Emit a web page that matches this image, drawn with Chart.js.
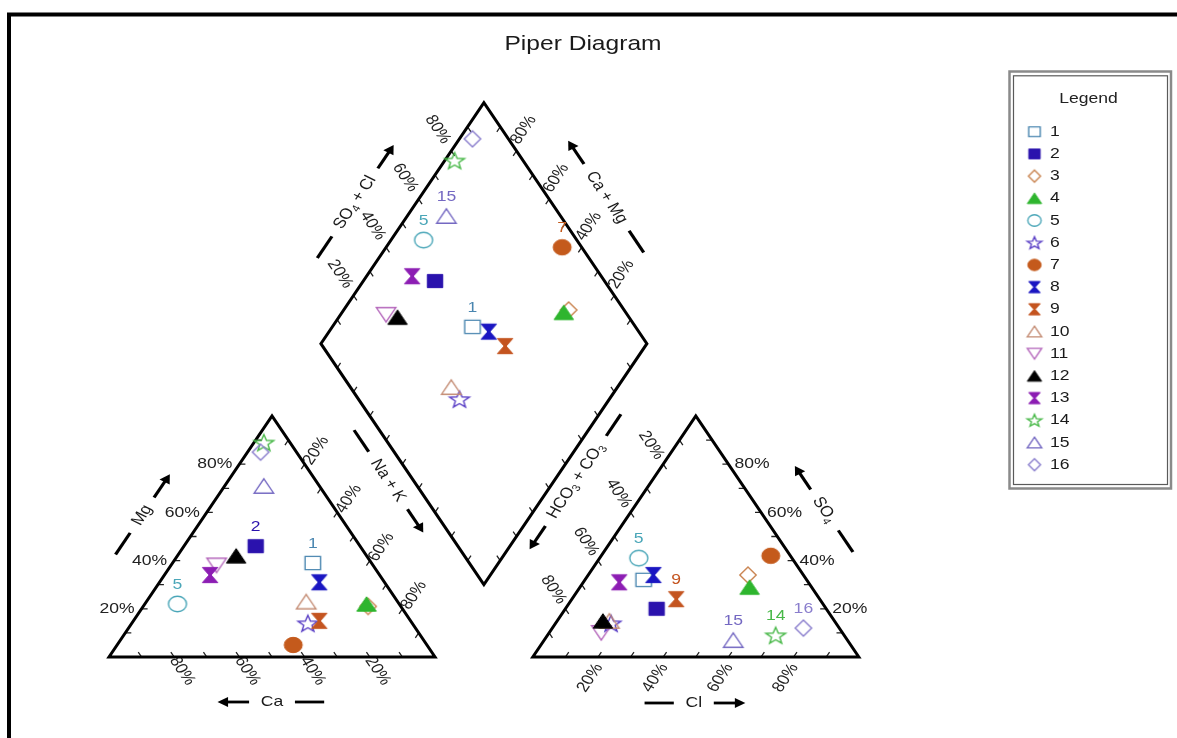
<!DOCTYPE html>
<html lang="en">
<head>
<meta charset="utf-8">
<title>Piper Diagram</title>
<script src="https://cdn.jsdelivr.net/npm/chart.js@4.4.1/dist/chart.umd.min.js"></script>
<style>
  html, body { margin: 0; padding: 0; background: #fff; overflow: hidden; }
  #wrap { width: 1177px; height: 738px; }
  canvas { display: block; }
</style>
</head>
<body>
<div id="wrap"><canvas id="piper" width="1177" height="738" style="width:1177px;height:738px"></canvas></div>
<script>
// ---- sample composition (% of meq/L) ----
const samples = ['1', '2', '3', '4', '5', '6', '7', '8', '9', '10', '11', '12', '13', '14', '15', '16'];
// cations
const ca   = [18, 32, 10, 10, 68, 32, 41, 20, 28, 28, 48, 40, 52,  8, 17, 11];
const mg   = [39, 46, 21, 22, 22, 14,  5, 31, 15, 23, 38, 42, 34, 89, 71, 85];
const naK  = [43, 22, 69, 68, 10, 54, 54, 49, 57, 49, 14, 18, 14,  3, 12,  4];
// anions
const hco3 = [50, 52, 17, 19, 47, 69,  6, 46, 44, 69, 74, 71, 58, 21, 35, 11];
const so4  = [32, 20, 34, 29, 41, 14, 42, 34, 24, 15, 10, 15, 31,  9,  7, 12];
const cl   = [18, 28, 49, 52, 12, 17, 52, 20, 32, 16, 16, 14, 11, 70, 58, 77];

// ---- axis ticks (%) ----
const tickMinor = [10, 20, 30, 40, 50, 60, 70, 80, 90];
const tickLabelled = [20, 40, 60, 80];

// samples annotated with their id in each plot
const tagsCation = ['1', '2', '5'];
const tagsAnion = ['5', '9', '14', '15', '16'];
const tagsDiamond = ['1', '5', '7', '15'];

// ---- marker styles ----
const colors = ['#4a86b0', '#2a12ad', '#c9834f', '#2eb52e', '#4aa6b8', '#5b40c6', '#c45a1c', '#1a16c2',
                '#c4541f', '#c48c74', '#b466bb', '#000000', '#8c1db3', '#48b848', '#7468c2', '#8a7ecd'];
const shapes = ['square', 'squareFilled', 'diamond', 'triangleFilled', 'circle', 'star', 'circleFilled', 'hourglass',
                'hourglass', 'triangle', 'triangleDown', 'triangleFilled', 'hourglass', 'star', 'triangle', 'diamond'];

// ---- Piper geometry (triangle side = 1) ----
const H = Math.sqrt(3) / 2;
const GAP = 0.3;
const STRETCH = 1.17;            // horizontal stretch of glyphs and markers
const FONT = '"Liberation Sans", Arial, Helvetica, sans-serif';

function cationPoint(caP, mgP, naP) {
  const t = caP + mgP + naP, m = mgP / t, n = naP / t;
  return { x: n + m / 2, y: m * H };
}
function anionPoint(hP, sP, cP) {
  const t = hP + sP + cP, s = sP / t, c = cP / t;
  return { x: 1 + GAP + c + s / 2, y: s * H };
}
// u = Ca+Mg fraction, v = SO4+Cl fraction
function diamondPoint(u, v) {
  return { x: 1 + GAP / 2 + (v - u) / 2, y: GAP * H + (u + v) * H };
}
function projectPoint(i) {
  const u = (ca[i] + mg[i]) / (ca[i] + mg[i] + naK[i]);
  const v = (so4[i] + cl[i]) / (hco3[i] + so4[i] + cl[i]);
  return diamondPoint(u, v);
}

// ---- marker images ----
function shapePath(shape) {
  switch (shape) {
    case 'square': case 'squareFilled': return [[-6.6, -6.6], [6.6, -6.6], [6.6, 6.6], [-6.6, 6.6]];
    case 'diamond': return [[0, -8], [7, 0], [0, 8], [-7, 0]];
    case 'triangle': case 'triangleFilled': return [[0, -7.2], [8.3, 7.2], [-8.3, 7.2]];
    case 'triangleDown': return [[0, 7.2], [8.3, -7.2], [-8.3, -7.2]];
    case 'hourglass': return [[-6.6, -7.6], [6.6, -7.6], [0.9, 0], [6.6, 7.6], [-6.6, 7.6], [-0.9, 0]];
    case 'star': {
      const p = [];
      for (let k = 0; k < 10; k++) {
        const r = k % 2 ? 3.7 : 8.8, a = -Math.PI / 2 + k * Math.PI / 5;
        p.push([r * Math.cos(a), r * Math.sin(a) + 0.8]);
      }
      return p;
    }
  }
  return [];
}
function makeMarker(shape, color, scale) {
  const w = Math.ceil(22 * scale * STRETCH) + 2, h = Math.ceil(22 * scale) + 2;
  const c = document.createElement('canvas');
  c.width = w; c.height = h;
  const g = c.getContext('2d');
  const cx = w / 2, cy = h / 2;
  const filled = /Filled|hourglass/.test(shape);
  g.beginPath();
  if (shape.startsWith('circle')) {
    g.ellipse(cx, cy, 7.7 * scale * STRETCH, 7.7 * scale, 0, 0, Math.PI * 2);
  } else {
    shapePath(shape).forEach(([x, y], k) => {
      const X = cx + x * scale * STRETCH, Y = cy + y * scale;
      if (k) g.lineTo(X, Y); else g.moveTo(X, Y);
    });
    g.closePath();
  }
  g.lineJoin = 'miter';
  g.strokeStyle = color;
  if (filled) { g.fillStyle = color; g.fill(); g.lineWidth = 1; g.stroke(); }
  else { g.lineWidth = 1.4; g.stroke(); }
  return c;
}
const markerImgs = shapes.map((s, i) => makeMarker(s, colors[i], 1));
const legendImgs = shapes.map((s, i) => makeMarker(s, colors[i], 0.74));

// ---- text helpers ----
function drawText(ctx, parts, x, y, opt) {
  const size = opt.size || 14;
  const mainFont = size + 'px ' + FONT, subFont = Math.round(size * 0.68) + 'px ' + FONT;
  ctx.save();
  ctx.translate(x, y);
  ctx.scale(STRETCH, 1);
  ctx.rotate((opt.rot || 0) * Math.PI / 180);
  let w = 0;
  const widths = parts.map(([t, sub]) => { ctx.font = sub ? subFont : mainFont; const m = ctx.measureText(t).width; w += m; return m; });
  let x0 = opt.align === 'right' ? -w : opt.align === 'left' ? 0 : -w / 2;
  ctx.fillStyle = opt.color || '#222';
  ctx.textBaseline = 'middle';
  ctx.textAlign = 'left';
  parts.forEach(([t, sub], k) => {
    ctx.font = sub ? subFont : mainFont;
    ctx.fillText(t, x0, sub ? size * 0.3 : 0);
    x0 += widths[k];
  });
  ctx.restore();
}

// axis title set beside an edge: dash, text, arrow pointing along the edge direction
function drawAxisTitle(ctx, toPx, spec) {
  const a = toPx(spec.from), b = toPx(spec.to);
  let dx = b.x - a.x, dy = b.y - a.y;
  const len = Math.hypot(dx, dy); dx /= len; dy /= len;
  const nx = spec.side * dy, ny = -spec.side * dx;
  const cx = (a.x + b.x) / 2 + dx * spec.shift + nx * spec.dist;
  const cy = (a.y + b.y) / 2 + dy * spec.shift + ny * spec.dist;
  const r = spec.rot * Math.PI / 180;
  const fwd = Math.sign(STRETCH * Math.cos(r) * dx + Math.sin(r) * dy) || 1;
  const size = 15;
  const mainFont = size + 'px ' + FONT, subFont = Math.round(size * 0.68) + 'px ' + FONT;
  ctx.save();
  ctx.translate(cx, cy);
  ctx.scale(STRETCH, 1);
  ctx.rotate(r);
  let W = 0;
  const widths = spec.parts.map(([t, sub]) => { ctx.font = sub ? subFont : mainFont; const m = ctx.measureText(t).width; W += m; return m; });
  let x0 = -W / 2;
  ctx.fillStyle = '#1a1a1a';
  ctx.textBaseline = 'middle';
  ctx.textAlign = 'left';
  spec.parts.forEach(([t, sub], k) => {
    ctx.font = sub ? subFont : mainFont;
    ctx.fillText(t, x0, sub ? size * 0.3 : 0);
    x0 += widths[k];
  });
  const gap = 10, dashLen = 25, arrowLen = 27;
  ctx.strokeStyle = '#000';
  ctx.fillStyle = '#000';
  ctx.lineWidth = 2.8;
  ctx.beginPath();
  ctx.moveTo(-fwd * (W / 2 + gap + dashLen), 0);
  ctx.lineTo(-fwd * (W / 2 + gap), 0);
  ctx.stroke();
  const s0 = fwd * (W / 2 + gap), s1 = fwd * (W / 2 + gap + arrowLen);
  ctx.beginPath();
  ctx.moveTo(s0, 0);
  ctx.lineTo(s1 - fwd * 6, 0);
  ctx.stroke();
  ctx.beginPath();
  ctx.moveTo(s1, 0);
  ctx.lineTo(s1 - fwd * 9, -5);
  ctx.lineTo(s1 - fwd * 9, 5);
  ctx.closePath();
  ctx.fill();
  ctx.restore();
}

// ---- edges: tick positions, inward tick direction, percentage labels ----
const edges = [
  { at: t => cationPoint(100 * t, 0, 100 * (1 - t)), inward: { x: -0.5, y: H }, label: { dx: 8, dy: 14, rot: 60 } },          // Ca
  { at: t => cationPoint(100 * (1 - t), 100 * t, 0), inward: { x: 1, y: 0 }, label: { dx: -7, dy: 0, rot: 0, align: 'right' } }, // Mg
  { at: t => cationPoint(0, 100 * (1 - t), 100 * t), inward: { x: -0.5, y: -H }, label: { dx: 11.5, dy: -13.5, rot: -60 } },    // Na + K
  { at: t => anionPoint(100 * (1 - t), 0, 100 * t), inward: { x: 0.5, y: H }, label: { dx: -8, dy: 21, rot: -60 } },           // Cl
  { at: t => anionPoint(0, 100 * t, 100 * (1 - t)), inward: { x: -1, y: 0 }, label: { dx: 6, dy: 0, rot: 0, align: 'left' } },  // SO4
  { at: t => anionPoint(100 * t, 100 * (1 - t), 0), inward: { x: 0.5, y: -H }, label: { dx: -12, dy: -19, rot: 60 } },          // HCO3 + CO3
  { at: t => diamondPoint(1, t), inward: { x: 0.5, y: -H }, label: { dx: -13.5, dy: -21.5, rot: 60 } },                         // SO4 + Cl
  { at: t => diamondPoint(t, 1), inward: { x: -0.5, y: -H }, label: { dx: 7, dy: -21, rot: -60 } },                             // Ca + Mg
  { at: t => diamondPoint(t, 0), inward: { x: 0.5, y: H } },
  { at: t => diamondPoint(0, t), inward: { x: -0.5, y: H } }
];

const axisTitles = [
  { parts: [['Mg']], from: cationPoint(100, 0, 0), to: cationPoint(0, 100, 0), side: 1, shift: -9.5, dist: 52, rot: -60 },
  { parts: [['Na + K']], from: cationPoint(0, 100, 0), to: cationPoint(0, 0, 100), side: 1, shift: -27, dist: 60, rot: 60 },
  { parts: [['Ca']], from: cationPoint(0, 0, 100), to: cationPoint(100, 0, 0), side: 1, shift: 0, dist: 45, rot: 0 },
  { parts: [['Cl']], from: anionPoint(100, 0, 0), to: anionPoint(0, 0, 100), side: -1, shift: -2, dist: 46, rot: 0 },
  { parts: [['SO'], ['4', true]], from: anionPoint(0, 0, 100), to: anionPoint(0, 100, 0), side: -1, shift: -4.4, dist: 54, rot: 60 },
  { parts: [['HCO'], ['3', true], [' + CO'], ['3', true]], from: anionPoint(0, 100, 0), to: anionPoint(100, 0, 0), side: -1, shift: -24.5, dist: 63, rot: -60 },
  { parts: [['SO'], ['4', true], [' + Cl']], from: diamondPoint(1, 0), to: diamondPoint(1, 1), side: 1, shift: -9.4, dist: 51, rot: -60 },
  { parts: [['Ca + Mg']], from: diamondPoint(0, 1), to: diamondPoint(1, 1), side: -1, shift: -1.7, dist: 48.5, rot: 60 }
];

// ---- datasets ----
const outline = (pts) => ({
  label: '', data: pts.concat([pts[1]]), showLine: true, borderColor: '#000', borderWidth: 3,
  borderJoinStyle: 'miter', pointRadius: 0, fill: false, order: 100
});
const outlines = [
  outline([cationPoint(100, 0, 0), cationPoint(0, 0, 100), cationPoint(0, 100, 0), cationPoint(100, 0, 0)]),
  outline([anionPoint(100, 0, 0), anionPoint(0, 0, 100), anionPoint(0, 100, 0), anionPoint(100, 0, 0)]),
  outline([diamondPoint(0, 0), diamondPoint(1, 0), diamondPoint(1, 1), diamondPoint(0, 1), diamondPoint(0, 0)])
];
const sampleSets = samples.map((name, i) => ({
  label: name,
  data: [cationPoint(ca[i], mg[i], naK[i]), anionPoint(hco3[i], so4[i], cl[i]), projectPoint(i)],
  pointStyle: markerImgs[i],
  pointRadius: 9,
  pointHoverRadius: 9,
  borderColor: colors[i],
  backgroundColor: colors[i],
  showLine: false,
  order: samples.length - i
}));

// ---- decorations: frame, title, ticks, axis titles, tags, legend ----
const piperDecor = {
  id: 'piperDecor',
  beforeDraw(chart) {
    const ctx = chart.ctx;
    ctx.save();
    ctx.fillStyle = '#fff';
    ctx.fillRect(0, 0, chart.width, chart.height);
    ctx.strokeStyle = '#000';
    ctx.lineWidth = 4;
    ctx.strokeRect(9, 14.5, chart.width + 20, chart.height + 20);
    ctx.restore();
    drawText(ctx, [['Piper Diagram']], 583, 44, { size: 21, color: '#1a1a1a' });
  },
  beforeDatasetsDraw(chart) {
    const ctx = chart.ctx;
    const sx = chart.scales.x, sy = chart.scales.y;
    const toPx = p => ({ x: sx.getPixelForValue(p.x), y: sy.getPixelForValue(p.y) });
    ctx.save();
    ctx.strokeStyle = '#222';
    ctx.lineWidth = 1.3;
    ctx.beginPath();
    edges.forEach(e => {
      tickMinor.forEach(v => {
        const p = e.at(v / 100);
        const a = toPx(p), b = toPx({ x: p.x + e.inward.x * 0.05, y: p.y + e.inward.y * 0.05 });
        const L = Math.hypot(b.x - a.x, b.y - a.y);
        ctx.moveTo(a.x, a.y);
        ctx.lineTo(a.x + (b.x - a.x) / L * 6, a.y + (b.y - a.y) / L * 6);
      });
    });
    ctx.stroke();
    ctx.restore();
    edges.forEach(e => {
      if (!e.label) return;
      tickLabelled.forEach(v => {
        const a = toPx(e.at(v / 100));
        drawText(ctx, [[v + '%']], a.x + e.label.dx, a.y + e.label.dy,
          { size: 15, rot: e.label.rot, align: e.label.align || 'center', color: '#222' });
      });
    });
    axisTitles.forEach(spec => drawAxisTitle(ctx, toPx, spec));
  },
  afterDatasetsDraw(chart) {
    const ctx = chart.ctx;
    const tag = (names, k) => names.forEach(name => {
      const i = samples.indexOf(name);
      const el = chart.getDatasetMeta(outlines.length + i).data[k];
      drawText(ctx, [[name]], el.x, el.y - 19, { size: 15, color: colors[i] });
    });
    tag(tagsCation, 0);
    tag(tagsAnion, 1);
    tag(tagsDiamond, 2);

    // legend box
    ctx.save();
    ctx.strokeStyle = '#8a8a8a';
    ctx.lineWidth = 2.5;
    ctx.strokeRect(1009.5, 71.5, 161.5, 417);
    ctx.strokeStyle = '#5a5a5a';
    ctx.lineWidth = 1.2;
    ctx.strokeRect(1013.5, 75.8, 154, 408.7);
    ctx.restore();
    drawText(ctx, [['Legend']], 1088.5, 98.5, { size: 15, color: '#222' });
    samples.forEach((name, i) => {
      const y = 131.7 + i * 22.2;
      const img = legendImgs[i];
      ctx.drawImage(img, 1034.5 - img.width / 2, y - img.height / 2);
      drawText(ctx, [[name]], 1050, y, { size: 15, align: 'left', color: '#1a1a1a' });
    });
  }
};

new Chart(document.getElementById('piper'), {
  type: 'scatter',
  data: { datasets: outlines.concat(sampleSets) },
  options: {
    responsive: false,
    animation: false,
    events: [],
    layout: { padding: 0, autoPadding: false },
    plugins: { legend: { display: false }, tooltip: { enabled: false }, title: { display: false } },
    scales: {
      x: { type: 'linear', min: -0.3344, max: 3.2761, display: false },
      y: { type: 'linear', min: -0.2911, max: 2.3609, display: false }
    }
  },
  plugins: [piperDecor]
});
</script>
</body>
</html>
